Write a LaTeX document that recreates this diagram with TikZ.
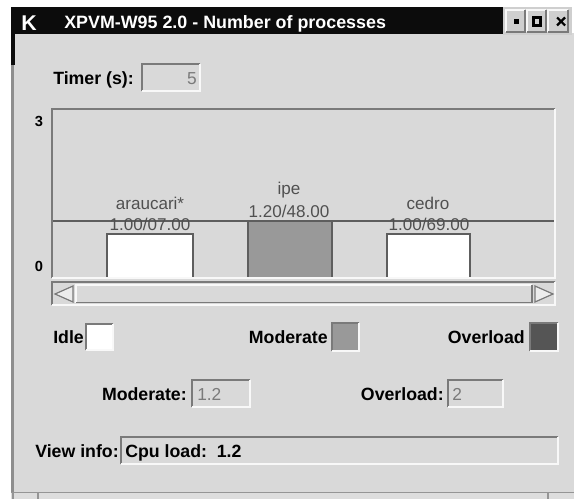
\documentclass[tikz,border=0pt]{standalone}
\usepackage{fontspec}
\setmainfont{Liberation Sans}
\definecolor{panel}{HTML}{D9D9D9}
\definecolor{dkedge}{HTML}{7A7A7A}
\definecolor{ltedge}{HTML}{F8F8F8}
\definecolor{modgray}{HTML}{999999}
\definecolor{ovlgray}{HTML}{555555}
\definecolor{barline}{HTML}{5E5E5E}
\definecolor{lbltext}{HTML}{505050}
\definecolor{valtext}{HTML}{7A7A7A}
\definecolor{titlebg}{HTML}{0C0C0C}
\definecolor{btnbg}{HTML}{CFCFCF}
\newcommand\lblfont{\fontsize{13.3}{15}\selectfont\bfseries}
\newcommand\chartfont{\fontsize{12.8}{15}\selectfont}
% sunken box: x1 y1 x2 y2 fill
\newcommand\sunkbox[5]{%
  \fill[#5] (#1,#2) rectangle (#3,#4);
  \draw[dkedge,line width=1.2pt] (#1,#4) -- (#1,#2) -- (#3,#2);
  \draw[ltedge,line width=1.2pt] (#3,#2) -- (#3,#4) -- (#1,#4);
}
% raised box
\newcommand\upbox[5]{%
  \fill[#5] (#1,#2) rectangle (#3,#4);
  \draw[ltedge,line width=1.1pt] (#1,#4) -- (#1,#2) -- (#3,#2);
  \draw[dkedge,line width=1.1pt] (#3,#2) -- (#3,#4) -- (#1,#4);
}
\tikzset{
  lbl/.style={font=\lblfont, inner sep=0pt, text=black},
  chartlbl/.style={font=\chartfont, inner sep=0pt, text=lbltext, anchor=base},
  val/.style={font=\fontsize{13}{15}\selectfont, inner sep=0pt, text=valtext},
  barframe/.style={draw=barline, line width=1.2pt},
}
\begin{document}
\begin{tikzpicture}[x=0.75pt,y=-0.75pt]
\useasboundingbox (0,0) rectangle (574,499);
\fill[white] (0,0) rectangle (574,499);
% window panel
\fill[panel] (11,33) rectangle (574,499);
% title bar
\fill[titlebg] (11,7) rectangle (503,34);
\fill[btnbg] (503,7) rectangle (572,35);
\upbox{506}{10}{525}{32}{btnbg}
\upbox{527}{10}{546}{32}{btnbg}
\upbox{548}{10}{568}{32}{btnbg}
\fill[black] (513.5,19) rectangle (518.5,24);
\draw[black,line width=1.6pt] (533.5,17.5) rectangle (540.5,25.5);
\draw[black,line width=1.6pt] (557,17.5) -- (565,25.5) (557,25.5) -- (565,17.5);
\node[font=\fontsize{16}{18}\selectfont\bfseries, text=white, inner sep=0pt, anchor=base west] (kicon) at (21,30.5) {K};
\node[font=\fontsize{13.4}{16}\selectfont\bfseries, text=white, inner sep=0pt, anchor=base west] (title) at (64,29) {XPVM-W95 2.0 - Number of processes};
% left borders
\fill[titlebg] (11,33) rectangle (15,65);
\fill[dkedge!85] (11,65) rectangle (13.5,493);
% timer
\node[lbl, anchor=base west] (timerlbl) at (53,85) {Timer (s):};
\sunkbox{142}{64}{200}{91}{panel}
\node[val, anchor=base east] (timerval) at (197,85) {5};
% chart frame
\sunkbox{52}{109}{555}{278}{panel}
\node[font=\fontsize{11}{13}\selectfont\bfseries, inner sep=0pt, anchor=base] (ymax) at (39,127) {3};
\node[font=\fontsize{11}{13}\selectfont\bfseries, inner sep=0pt, anchor=base] (ymin) at (39,271) {0};
% threshold line
\draw[barline,line width=1.3pt] (53,221) -- (554,221);
% bars
\fill[white] (107,234) rectangle (193,276.5);
\draw[barframe] (107,276.5) -- (107,234) -- (193,234) -- (193,276.5);
\fill[modgray] (248,221) rectangle (332,276.5);
\draw[barframe] (248,276.5) -- (248,221) -- (332,221) -- (332,276.5);
\fill[white] (387,234) rectangle (470,276.5);
\draw[barframe] (387,276.5) -- (387,234) -- (470,234) -- (470,276.5);
% bar labels
\node[chartlbl] (h1) at (150,209) {araucari*};
\node[chartlbl] (v1) at (150,230) {1.00/07.00};
\node[chartlbl] (h2) at (289,195) {ipe};
\node[chartlbl] (v2) at (289,217) {1.20/48.00};
\node[chartlbl] (h3) at (428,209) {cedro};
\node[chartlbl] (v3) at (429,230) {1.00/69.00};
% scrollbar
\sunkbox{52}{282}{555}{305}{panel}
\upbox{76}{285}{532}{302.5}{panel}
\filldraw[fill=ltedge!60!panel, draw=dkedge, line width=0.9pt] (55,294) -- (73,286) -- (73,302) -- cycle;
\filldraw[fill=ltedge!60!panel, draw=dkedge, line width=0.9pt] (553,294) -- (535,286) -- (535,302) -- cycle;
% legend
\node[lbl, anchor=base west] (idlelbl) at (53,343) {Idle};
\sunkbox{86}{324}{113}{350}{white}
\node[lbl, anchor=base east] (modlbl) at (328,343) {Moderate};
\sunkbox{332}{323}{359}{351}{modgray}
\node[lbl, anchor=base east] (ovllbl) at (525,343) {Overload};
\sunkbox{530}{323}{558}{351}{ovlgray}
% thresholds
\node[lbl, anchor=base east] (modfield) at (187,400) {Moderate:};
\sunkbox{192}{380}{250}{407}{panel}
\node[val, anchor=base west] (modval) at (197,400) {1.2};
\node[lbl, anchor=base east] (ovlfield) at (444,400) {Overload:};
\sunkbox{448}{380}{503}{407}{panel}
\node[val, anchor=base west] (ovlval) at (452,400) {2};
% view info
\node[lbl, anchor=base west] (viewlbl) at (35,457) {View info:};
\sunkbox{121}{437}{558}{464}{panel}
\node[lbl, anchor=base west] (viewval) at (125,457) {Cpu load:\ \ 1.2};
% bottom edge of next window
\fill[btnbg!70!white] (11,493) rectangle (574,499);
\draw[dkedge!80,line width=1.2pt] (11,492.5) -- (574,492.5);
\draw[dkedge!80,line width=1.0pt] (13,493) -- (13,499) (38,493) -- (38,499) (548,493) -- (548,499);
\end{tikzpicture}
\end{document}
